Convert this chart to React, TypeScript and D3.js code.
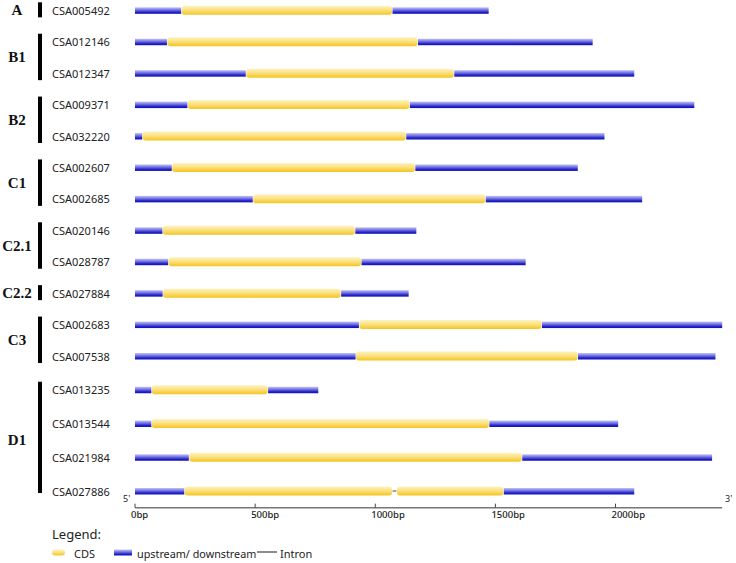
import React from "react";
import * as d3 from "d3";

const geneIds = [
  "CSA005492", "CSA012146", "CSA012347", "CSA009371", "CSA032220", "CSA002607",
  "CSA002685", "CSA020146", "CSA028787", "CSA027884", "CSA002683", "CSA007538",
  "CSA013235", "CSA013544", "CSA021984", "CSA027886",
];
const groupLabels = ["A", "B1", "B2", "C1", "C2.1", "C2.2", "C3", "D1"];
const groupOfGene = [0, 1, 1, 2, 2, 3, 3, 4, 4, 5, 6, 6, 7, 7, 7, 7];
const geneLength = [1472, 1905, 2078, 2328, 1954, 1843, 2111, 1171, 1626, 1139, 2444, 2416, 763, 2011, 2402, 2078];
const cdsStart = [192, 133, 461, 218, 30, 153, 490, 114, 138, 115, 932, 918, 68, 68, 224, 205];
const cdsEnd = [1072, 1178, 1329, 1144, 1129, 1167, 1460, 917, 943, 858, 1694, 1844, 554, 1475, 1612, 1535];
// introns: [geneIndex, start, end]
const introns = [[15, 1072, 1088]];
const tickValues = [0, 500, 1000, 1500, 2000];

export default function App() {
  const W = 736, H = 563;
  const x = d3.scaleLinear().domain([0, 2000]).range([135, 615.5]);
  const y = d3.scaleLinear().domain([0, 11, 15]).range([10.3, 356, 491]);
  const maxLen = d3.max(geneLength) as number;
  const axisY = 507.7;
  const sans = "'Noto Sans', 'DejaVu Sans', sans-serif";

  const cdsSegs: { g: number; s: number; e: number }[] = [];
  geneIds.forEach((_, i) => {
    const ins = introns.filter((t) => t[0] === i).sort((a, b) => a[1] - b[1]);
    let s = cdsStart[i];
    ins.forEach((t) => {
      cdsSegs.push({ g: i, s, e: t[1] });
      s = t[2];
    });
    cdsSegs.push({ g: i, s, e: cdsEnd[i] });
  });

  const groups = groupLabels.map((lab, gi) => {
    const rows = groupOfGene.map((g, i) => (g === gi ? i : -1)).filter((i) => i >= 0);
    return { lab, first: rows[0], last: rows[rows.length - 1] };
  });

  return (
    <svg width={W} height={H} style={{ position: "absolute", left: 0, top: 0, background: "#fff" }}>
      <defs>
        <linearGradient id="gBlue" x1="0" y1="0" x2="0" y2="1">
          <stop offset="0" stopColor="#c4c4f4" />
          <stop offset="0.45" stopColor="#6a6ae0" />
          <stop offset="0.75" stopColor="#2424c8" />
          <stop offset="1" stopColor="#1010b8" />
        </linearGradient>
        <linearGradient id="gYellow" x1="0" y1="0" x2="0" y2="1">
          <stop offset="0" stopColor="#fdf2c2" />
          <stop offset="0.5" stopColor="#fbe07a" />
          <stop offset="1" stopColor="#f4c420" />
        </linearGradient>
      </defs>

      {groups.map((g) => {
        const y0 = y(g.first) - 8;
        const y1 = Math.min(y(g.last) + 7, 493);
        return (
          <g key={g.lab}>
            <rect x={38} y={y0} width={4} height={y1 - y0} fill="#000" />
            <text
              x={17}
              y={(y(g.first) + y(g.last)) / 2}
              textAnchor="middle"
              dominantBaseline="central"
              fontFamily="'Liberation Serif', 'DejaVu Serif', serif"
              fontWeight="bold"
              fontSize={15}
              fill="#111"
            >
              {g.lab}
            </text>
          </g>
        );
      })}

      {geneIds.map((id, i) => (
        <g key={id}>
          <text x={52} y={y(i)} dominantBaseline="central" fontFamily={sans} fontSize={11} fill="#222">
            {id}
          </text>
          <rect x={x(0)} y={y(i) - 3} width={x(cdsStart[i]) - x(0)} height={6.5} fill="url(#gBlue)" />
          <rect x={x(cdsEnd[i])} y={y(i) - 3} width={x(geneLength[i]) - x(cdsEnd[i])} height={6.5} fill="url(#gBlue)" />
        </g>
      ))}

      {introns.map((t, k) => (
        <line key={k} x1={x(t[1])} x2={x(t[2])} y1={y(t[0])} y2={y(t[0])} stroke="#444" strokeWidth={1} />
      ))}

      {cdsSegs.map((c, k) => (
        <rect
          key={k}
          x={x(c.s) + 0.5}
          y={y(c.g) - 4.5}
          width={x(c.e) - x(c.s) - 1}
          height={9}
          rx={3}
          fill="url(#gYellow)"
        />
      ))}

      <line x1={x(0)} x2={x(maxLen)} y1={axisY} y2={axisY} stroke="#777" strokeWidth={1.5} />
      {tickValues.map((t) => (
        <g key={t}>
          <line x1={x(t)} x2={x(t)} y1={axisY - 4} y2={axisY} stroke="#444" strokeWidth={1} />
          <text x={x(t) - 4} y={517.5} fontFamily={sans} fontSize={9.5} fontWeight={500} fill="#222">
            {t}bp
          </text>
        </g>
      ))}
      <text x={123} y={502} fontFamily={sans} fontSize={9} fill="#222">5'</text>
      <text x={725} y={502} fontFamily={sans} fontSize={9} fill="#222">3'</text>

      <text x={52} y={539} fontFamily={sans} fontSize={13} fill="#222">Legend:</text>
      <rect x={52} y={549.5} width={13} height={6} rx={3} fill="url(#gYellow)" />
      <text x={74} y={553} dominantBaseline="central" fontFamily={sans} fontSize={11} fill="#222">CDS</text>
      <rect x={114} y={549.5} width={18} height={6} fill="url(#gBlue)" />
      <text x={137} y={553} dominantBaseline="central" fontFamily={sans} fontSize={10.8} fill="#222">upstream/ downstream</text>
      <line x1={257} x2={277} y1={552} y2={552} stroke="#666" strokeWidth={1.5} />
      <text x={280} y={553} dominantBaseline="central" fontFamily={sans} fontSize={11} fill="#222">Intron</text>
    </svg>
  );
}
